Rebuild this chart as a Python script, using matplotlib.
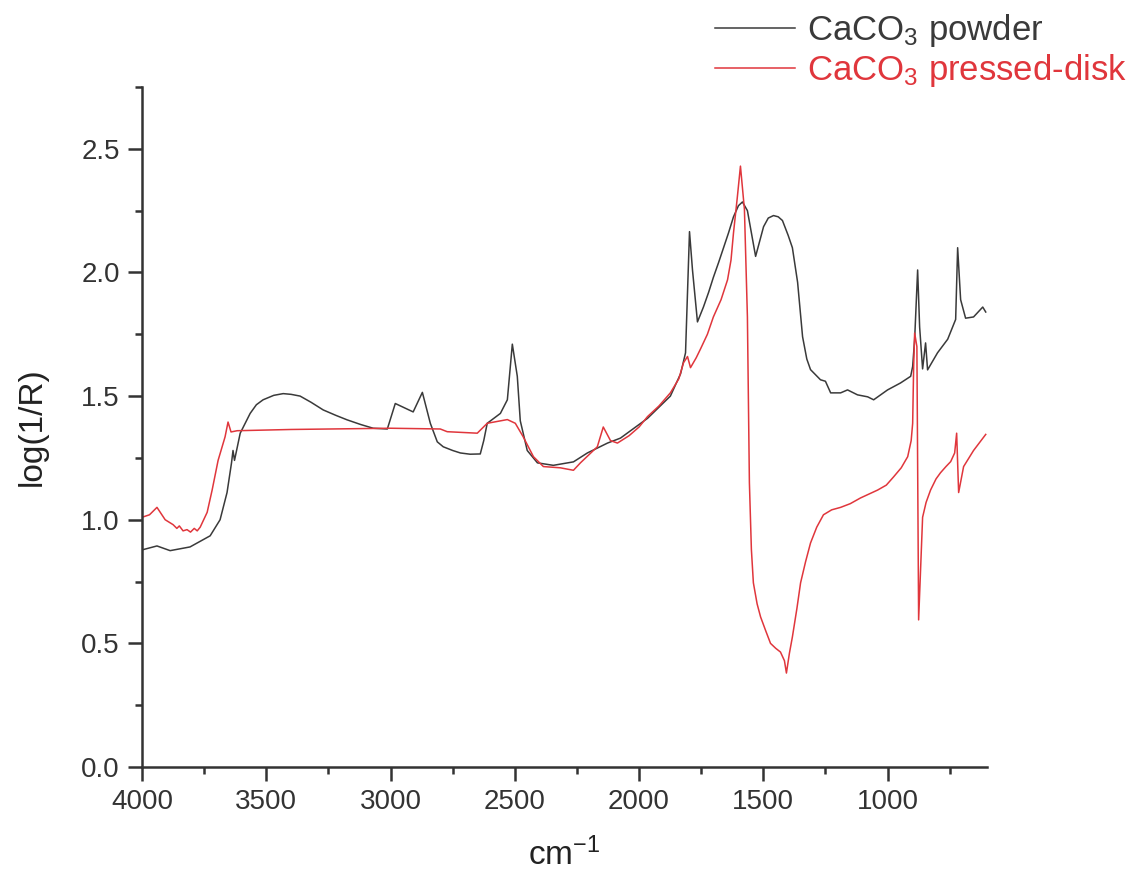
import matplotlib
matplotlib.use("Agg")
import matplotlib.pyplot as plt
from matplotlib.ticker import MultipleLocator

plt.rcParams["font.family"] = ["Liberation Sans", "DejaVu Sans"]
plt.rcParams["mathtext.default"] = "regular"

# CaCO3 powder spectrum (wavenumber cm-1, log(1/R))
powder_x = [4000, 3940, 3887, 3807, 3726, 3686, 3658, 3640, 3634, 3628, 3605, 3565,
            3540, 3513, 3470, 3432, 3400, 3364, 3320, 3271, 3220, 3175, 3120, 3070,
            3013, 2981, 2909, 2872, 2840, 2812, 2788, 2750, 2719, 2680, 2639, 2625,
            2611, 2558, 2530, 2510, 2490, 2478, 2450, 2409, 2345, 2264, 2208, 2127,
            2075, 1966, 1874, 1833, 1813, 1797, 1785, 1765, 1741, 1720, 1701, 1680,
            1660, 1640, 1620, 1600, 1584, 1564, 1531, 1499, 1480, 1459, 1440, 1423,
            1400, 1383, 1362, 1342, 1325, 1310, 1270, 1250, 1229, 1189, 1161, 1121,
            1080, 1056, 1000, 948, 907, 899, 891, 879, 871, 859, 847, 839, 799, 758,
            726, 718, 706, 686, 654, 617, 605]
powder_y = [0.878, 0.894, 0.875, 0.89, 0.935, 1.00, 1.11, 1.23, 1.28, 1.24, 1.35, 1.43,
            1.465, 1.485, 1.503, 1.51, 1.507, 1.50, 1.475, 1.444, 1.422, 1.404, 1.385, 1.37,
            1.367, 1.47, 1.436, 1.515, 1.39, 1.315, 1.295, 1.28, 1.27, 1.265, 1.266, 1.32,
            1.39, 1.43, 1.485, 1.71, 1.58, 1.40, 1.28, 1.23, 1.22, 1.234, 1.27, 1.31,
            1.33, 1.41, 1.50, 1.59, 1.675, 2.165, 2.01, 1.80, 1.86, 1.92, 1.98, 2.04,
            2.10, 2.16, 2.225, 2.27, 2.285, 2.25, 2.065, 2.185, 2.22, 2.23, 2.225, 2.21,
            2.15, 2.10, 1.96, 1.74, 1.65, 1.607, 1.566, 1.56, 1.513, 1.513, 1.525, 1.505,
            1.497, 1.485, 1.525, 1.553, 1.58, 1.62, 1.73, 2.01, 1.78, 1.61, 1.715, 1.606, 1.675, 1.73,
            1.81, 2.10, 1.89, 1.815, 1.82, 1.86, 1.84]

# CaCO3 pressed-disk spectrum
disk_x = [4000, 3970, 3940, 3907, 3875, 3860, 3850, 3835, 3819, 3805, 3790, 3778,
          3766, 3738, 3718, 3694, 3666, 3654, 3642, 3617, 3400, 3000, 2800, 2772,
          2651, 2611, 2530, 2498, 2466, 2425, 2385, 2317, 2264, 2236, 2168, 2144,
          2115, 2087, 2040, 2000, 1966, 1920, 1874, 1840, 1821, 1805, 1793, 1770,
          1753, 1725, 1701, 1670, 1644, 1630, 1620, 1605, 1592, 1576, 1564, 1556,
          1548, 1540, 1525, 1511, 1490, 1471, 1450, 1431, 1415, 1407, 1395, 1383,
          1365, 1350, 1330, 1310, 1285, 1258, 1225, 1189, 1150, 1109, 1040, 1005,
          976, 945, 919, 905, 899, 895, 891, 882, 875, 859, 845, 827, 805, 787,
          765, 746, 730, 722, 714, 694, 654, 605]
disk_y = [1.01, 1.02, 1.05, 1.00, 0.98, 0.965, 0.975, 0.955, 0.96, 0.95, 0.965, 0.955,
          0.97, 1.03, 1.12, 1.24, 1.335, 1.395, 1.355, 1.36, 1.365, 1.37, 1.367, 1.356,
          1.35, 1.39, 1.405, 1.39, 1.335, 1.255, 1.215, 1.21, 1.20, 1.23, 1.295, 1.375,
          1.32, 1.31, 1.34, 1.375, 1.417, 1.46, 1.513, 1.57, 1.635, 1.66, 1.615, 1.655,
          1.69, 1.75, 1.82, 1.89, 1.97, 2.05, 2.16, 2.30, 2.43, 2.255, 1.82, 1.15,
          0.88, 0.745, 0.66, 0.607, 0.55, 0.50, 0.48, 0.465, 0.43, 0.38, 0.46, 0.526,
          0.64, 0.745, 0.83, 0.906, 0.97, 1.02, 1.04, 1.05, 1.065, 1.088, 1.12, 1.14,
          1.173, 1.21, 1.255, 1.32, 1.39, 1.62, 1.755, 1.70, 0.595, 1.01, 1.07, 1.12, 1.165, 1.19,
          1.215, 1.235, 1.27, 1.35, 1.11, 1.215, 1.28, 1.345]

fig = plt.figure(figsize=(11.41, 8.75), dpi=100)
ax = fig.add_axes([0.1245, 0.1234, 0.7405, 0.7772])

ax.plot(powder_x, powder_y, color="#3a3a3a", lw=1.1, label="CaCO$_3$ powder")
ax.plot(disk_x, disk_y, color="#e0363c", lw=1.1, label="CaCO$_3$ pressed-disk")

ax.set_xlim(4000, 600)
ax.set_ylim(0, 2.75)
ax.xaxis.set_major_locator(MultipleLocator(500))
ax.xaxis.set_minor_locator(MultipleLocator(250))
ax.yaxis.set_major_locator(MultipleLocator(0.5))
ax.yaxis.set_minor_locator(MultipleLocator(0.25))
ax.yaxis.set_major_formatter(plt.FormatStrFormatter("%.1f"))

for side in ["top", "right"]:
    ax.spines[side].set_visible(False)
for side in ["left", "bottom"]:
    ax.spines[side].set_linewidth(1.8)
    ax.spines[side].set_color("#333333")

ax.tick_params(which="major", direction="out", length=10, width=1.8,
               labelsize=20, colors="#333333", pad=6)
ax.tick_params(which="minor", direction="out", length=5, width=1.8, colors="#333333")

ax.set_xlabel("cm$^{-1}$", fontsize=24, color="#222222", labelpad=16)
ax.set_ylabel("log(1/R)", fontsize=24, color="#222222", labelpad=24)

leg = fig.legend(loc="upper left", bbox_to_anchor=(0.627, 0.986), frameon=False,
                 fontsize=25, handlelength=2.3, handletextpad=0.33, labelspacing=0.08,
                 borderaxespad=0, borderpad=0)
for text, line in zip(leg.get_texts(), leg.get_lines()):
    text.set_color(line.get_color())

fig.savefig("out.png", dpi=100)
